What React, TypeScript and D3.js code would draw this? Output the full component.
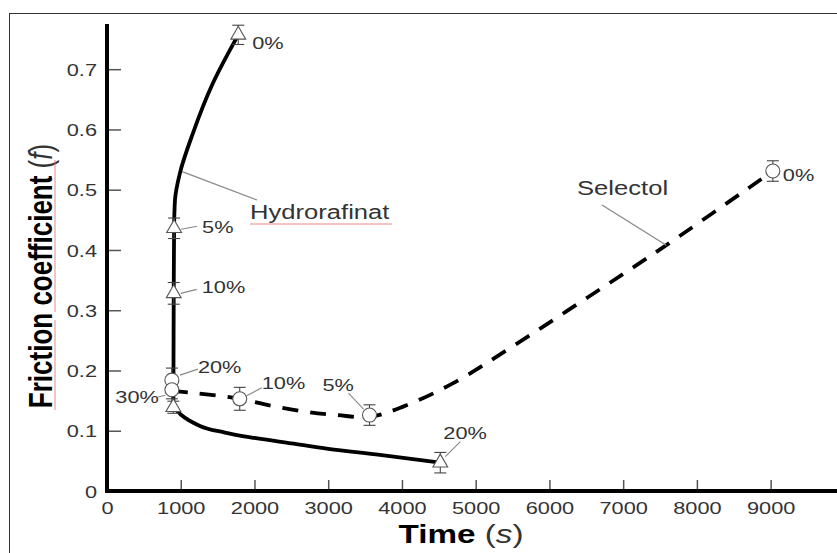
import React, { useRef, useEffect } from 'react';
import * as d3 from 'd3';

// Hydrorafinat series (triangles, solid curve)
const hydroConc = ['0%', '5%', '10%', '20%', '30%'];
const hydroTime = [1780, 910, 905, 4520, 900];
const hydroF = [0.757, 0.436, 0.328, 0.047, 0.139];
const hydroErr = [0.016, 0.017, 0.018, 0.017, 0.01];

// fitted curve through the Hydrorafinat points
// upper branch (falls from 0% down to 30%), lower branch (30% out to 20%)
const hydroUpperTime = [1780, 1437, 1166, 990, 922, 910, 905, 902, 900];
const hydroUpperF = [0.757, 0.677, 0.594, 0.528, 0.483, 0.436, 0.33, 0.22, 0.139];
const hydroLowerTime = [900, 1000, 1260, 1600, 2000, 2500, 3000, 3700, 4520];
const hydroLowerF = [0.139, 0.127, 0.108, 0.097, 0.088, 0.079, 0.07, 0.06, 0.047];

// Selectol series (circles, dashed curve)
const selConc = ['0%', '5%', '10%', '20%', ''];
const selTime = [9030, 3560, 1800, 880, 880];
const selF = [0.531, 0.126, 0.153, 0.184, 0.168];
const selErr = [0.017, 0.017, 0.019, 0.02, 0.015];

const selCurveTime = [880, 1220, 1800, 2170, 2714, 3120, 3560, 4016, 4695, 5500, 6527, 7585, 9030];
const selCurveF = [0.166, 0.162, 0.153, 0.143, 0.131, 0.126, 0.123, 0.14, 0.179, 0.24, 0.322, 0.408, 0.531];

const xTicks = [0, 1000, 2000, 3000, 4000, 5000, 6000, 7000, 8000, 9000];
const yTicks = [0, 0.1, 0.2, 0.3, 0.4, 0.5, 0.6, 0.7];

const SX = 1.28; // horizontal stretch of the original lettering
const FONT = '"Liberation Sans", Arial, sans-serif';

// label placement (pixel offsets from marker): [labelDx, labelDy, leader x1, y1, x2, y2]
const hydroLabelPos = [
  [14, 14, null, null, null, null],
  [28, 5, 7, 1, 23, -2],
  [28, 0, 7, 0, 23, -4],
  [3, -24, 5, -6, 20, -21],
  [-58, -4, -16, -10, -8, -12],
];
const selLabelPos = [
  [10, 10, null, null, null, null],
  [-47, -24, -21, -22, -6, -6],
  [22, -10, 7, -3, 22, -11],
  [26, -7, 8, -5, 26, -11],
  [0, 0, null, null, null, null],
];

export default function App() {
  const svgRef = useRef<SVGSVGElement>(null);

  useEffect(() => {
    if (!svgRef.current) return;
    const svg = d3.select(svgRef.current);
    svg.selectAll('*').remove();

    const x = d3.scaleLinear().domain([0, 9900]).range([107, 837]);
    const y = d3.scaleLinear().domain([0, 0.775]).range([491, 24]);

    // outer frame
    svg.append('rect')
      .attr('x', 9.5).attr('y', 13.5)
      .attr('width', 840).attr('height', 560)
      .attr('fill', 'none').attr('stroke', '#333').attr('stroke-width', 1);

    const text = (tx: number, ty: number, s: string, size: number) =>
      svg.append('text')
        .attr('transform', `translate(${tx},${ty}) scale(${SX},1)`)
        .attr('font-family', FONT)
        .attr('font-size', size)
        .attr('fill', '#333')
        .text(s);

    // axes
    const xAxis = svg.append('g')
      .attr('transform', `translate(0,${y(0)})`)
      .call(d3.axisBottom(x).tickValues(xTicks).tickSize(-11).tickSizeOuter(0).tickFormat(d3.format('d')));
    xAxis.select('.domain').remove();
    xAxis.selectAll('.tick line').attr('stroke', '#555').attr('stroke-width', 1.5);
    xAxis.selectAll('.tick text')
      .attr('y', null).attr('dy', null)
      .attr('transform', `translate(0,23) scale(${SX},1)`)
      .attr('font-family', FONT).attr('font-size', 17).attr('fill', '#333');

    const yAxis = svg.append('g')
      .attr('transform', `translate(${x(0)},0)`)
      .call(d3.axisLeft(y).tickValues(yTicks).tickSize(-14).tickSizeOuter(0)
        .tickFormat(d => (d === 0 ? '0' : d3.format('.1f')(d as number))));
    yAxis.select('.domain').remove();
    yAxis.selectAll('.tick line').attr('stroke', '#555').attr('stroke-width', 1.5);
    yAxis.selectAll('.tick text')
      .attr('x', null).attr('dy', '0.36em')
      .attr('transform', `translate(-10,0) scale(${SX},1)`)
      .attr('font-family', FONT).attr('font-size', 17).attr('fill', '#333');

    svg.append('line')
      .attr('x1', x(0)).attr('x2', x(0))
      .attr('y1', y(0.775)).attr('y2', y(0) + 2)
      .attr('stroke', '#000').attr('stroke-width', 4);
    svg.append('line')
      .attr('x1', x(0) - 2).attr('x2', x(9900))
      .attr('y1', y(0)).attr('y2', y(0))
      .attr('stroke', '#000').attr('stroke-width', 4);

    // axis titles
    const xt = svg.append('text')
      .attr('transform', `translate(461,543) scale(${SX},1)`)
      .attr('text-anchor', 'middle')
      .attr('font-family', FONT).attr('font-size', 26);
    xt.append('tspan').attr('font-weight', 'bold').attr('fill', '#000').text('Time ');
    xt.append('tspan').attr('fill', '#333').text('(');
    xt.append('tspan').attr('fill', '#333').attr('font-style', 'italic').text('s');
    xt.append('tspan').attr('fill', '#333').text(')');

    const yt = svg.append('text')
      .attr('transform', `translate(52,276) scale(${SX},1) rotate(-90)`)
      .attr('text-anchor', 'middle')
      .attr('font-family', FONT).attr('font-size', 26);
    yt.append('tspan').attr('font-weight', 'bold').attr('fill', '#000').text('Friction coefficient ');
    yt.append('tspan').attr('fill', '#333').text('(');
    yt.append('tspan').attr('fill', '#333').attr('font-style', 'italic').text('f');
    yt.append('tspan').attr('fill', '#333').text(')');

    // spell-check underlines seen in the original
    const red = 'rgba(235,110,110,0.55)';
    svg.append('line').attr('x1', 55).attr('x2', 55).attr('y1', 320).attr('y2', 410).attr('stroke', red).attr('stroke-width', 1.5);
    svg.append('line').attr('x1', 55).attr('x2', 55).attr('y1', 160).attr('y2', 312).attr('stroke', red).attr('stroke-width', 1.5);
    svg.append('line').attr('x1', 250).attr('x2', 392).attr('y1', 224).attr('y2', 224).attr('stroke', red).attr('stroke-width', 1.5);

    // curves
    const upper: [number, number][] = hydroUpperTime.map((t, i) => [x(t), y(hydroUpperF[i])]);
    const lower: [number, number][] = hydroLowerTime.map((t, i) => [x(t), y(hydroLowerF[i])]);
    const selPts: [number, number][] = selCurveTime.map((t, i) => [x(t), y(selCurveF[i])]);

    const solid = (d: string | null) => svg.append('path')
      .attr('d', d)
      .attr('fill', 'none').attr('stroke', '#000').attr('stroke-width', 3.8)
      .attr('stroke-linecap', 'round');
    solid(d3.line().curve(d3.curveMonotoneY)(upper));
    solid(d3.line().curve(d3.curveMonotoneX)(lower));

    svg.append('path')
      .attr('d', d3.line().curve(d3.curveCatmullRom.alpha(0.5))(selPts))
      .attr('fill', 'none').attr('stroke', '#000').attr('stroke-width', 3.8)
      .attr('stroke-dasharray', '16 12');

    // leader lines for series names
    const grey = '#888';
    svg.append('line')
      .attr('x1', x(1020)).attr('y1', y(0.53)).attr('x2', 257).attr('y2', 200)
      .attr('stroke', grey).attr('stroke-width', 1.2);
    text(250, 219, 'Hydrorafinat', 20);
    svg.append('line')
      .attr('x1', 602).attr('y1', 205).attr('x2', x(7585)).attr('y2', y(0.408))
      .attr('stroke', grey).attr('stroke-width', 1.2);
    text(577, 195, 'Selectol', 20);

    // error bars
    const errBar = (t: number, f: number, e: number) => {
      const g = svg.append('g').attr('stroke', '#444').attr('stroke-width', 1.1);
      g.append('line').attr('x1', x(t)).attr('x2', x(t)).attr('y1', y(f + e)).attr('y2', y(f - e));
      g.append('line').attr('x1', x(t) - 6).attr('x2', x(t) + 6).attr('y1', y(f + e)).attr('y2', y(f + e));
      g.append('line').attr('x1', x(t) - 6).attr('x2', x(t) + 6).attr('y1', y(f - e)).attr('y2', y(f - e));
    };
    hydroTime.forEach((t, i) => errBar(t, hydroF[i], hydroErr[i]));
    selTime.forEach((t, i) => errBar(t, selF[i], selErr[i]));

    // markers
    const tri = d3.symbol().type(d3.symbolTriangle).size(95);
    hydroTime.forEach((t, i) => {
      svg.append('path')
        .attr('d', tri())
        .attr('transform', `translate(${x(t)},${y(hydroF[i])})`)
        .attr('fill', '#fff').attr('stroke', '#555').attr('stroke-width', 1.1);
    });
    selTime.forEach((t, i) => {
      svg.append('circle')
        .attr('cx', x(t)).attr('cy', y(selF[i])).attr('r', 7)
        .attr('fill', '#fff').attr('stroke', '#555').attr('stroke-width', 1.1);
    });

    // concentration labels
    const labels = (times: number[], fs: number[], conc: string[], pos: any[]) => {
      times.forEach((t, i) => {
        if (!conc[i]) return;
        const px = x(t), py = y(fs[i]);
        const p = pos[i];
        if (p[2] !== null) {
          svg.append('line')
            .attr('x1', px + p[2]).attr('y1', py + p[3])
            .attr('x2', px + p[4]).attr('y2', py + p[5])
            .attr('stroke', grey).attr('stroke-width', 1.1);
        }
        text(px + p[0], py + p[1], conc[i], 17);
      });
    };
    labels(hydroTime, hydroF, hydroConc, hydroLabelPos);
    labels(selTime, selF, selConc, selLabelPos);
  }, []);

  return (
    <svg ref={svgRef} width={837} height={553}
      style={{ position: 'absolute', left: 0, top: 0, background: '#fff' }} />
  );
}
